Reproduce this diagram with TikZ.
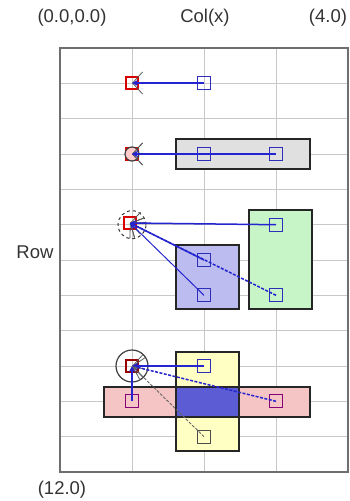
\documentclass[tikz,border=0pt]{standalone}
\usepackage{fontspec}
\setmainfont{Liberation Sans}
\usetikzlibrary{arrows.meta,calc}
\definecolor{gridc}{HTML}{C8C8C8}
\definecolor{framec}{HTML}{6E6E6E}
\definecolor{sqblue}{HTML}{2E2EB8}
\definecolor{linblue}{HTML}{2424D0}
\definecolor{grayfill}{HTML}{E0E0E0}
\definecolor{greenfill}{HTML}{C8F5C8}
\definecolor{bluefill}{HTML}{BCBCF0}
\definecolor{yellowfill}{HTML}{FFFFC4}
\definecolor{pinkfill}{HTML}{F5C4C4}
\definecolor{overfill}{HTML}{5C5CD4}
\begin{document}
\begin{tikzpicture}[x=1pt,y=-1pt,
  sq/.style={draw=sqblue, line width=1.2pt, minimum size=13pt, inner sep=0pt, rectangle},
  rsq/.style={draw=red!85!black, line width=1.2pt, minimum size=12pt, inner sep=0pt, rectangle},
  lbl/.style={font=\fontsize{18.5}{20}\selectfont, text=black!80, inner sep=0pt},
  conn/.style={draw=linblue, line width=1.5pt, -{Stealth[length=6pt,width=6pt]}},
  dconn/.style={conn, dash pattern=on 3pt off 1.5pt},
  gconn/.style={conn, draw=black!60, line width=0.9pt, dash pattern=on 3pt off 1.5pt},
  barb/.style={draw=black!65, line width=0.8pt, -{Straight Barb[length=10pt,width=22pt]}},
  box/.style={draw=black!85, line width=1.3pt}]
\useasboundingbox (0,0) rectangle (349,501);
% grid
\foreach \x in {132,204,276} \draw[gridc, line width=1pt] (\x,48) -- (\x,472);
\foreach \k in {1,...,11} \draw[gridc, line width=1pt] (60,{48+35.333*\k}) -- (348,{48+35.333*\k});
\draw[framec, line width=1.5pt] (60,48) rectangle (348,472);
% labels
\node[lbl] (t1) at (72,18) {(0.0,0.0)};
\node[lbl] (t2) at (205,18) {Col(x)};
\node[lbl] (t3) at (328,18) {(4.0)};
\node[lbl] (t4) at (35,252) {Row};
\node[lbl] (t5) at (62,490) {(12.0)};
% rectangles
\draw[box, fill=grayfill] (176,139) rectangle (310,169);
\draw[box, fill=greenfill] (249,210) rectangle (312,309);
\draw[box, fill=bluefill] (176,245) rectangle (239,309);
\fill[yellowfill] (176,352) rectangle (239,451);
\fill[pinkfill] (104,387) rectangle (310,417);
\fill[overfill] (176,387) rectangle (239,417);
\draw[box] (176,352) rectangle (239,451);
\draw[box] (104,387) rectangle (310,417);
% nodes
\node[rsq] (a1) at (132,83) {};
\node[sq] (b1) at (204,83) {};
\node[rsq] (a3) at (132,154) {};
\node[circle, draw=black!75, fill=red!20, line width=1.2pt, minimum size=14pt, inner sep=0pt] (c3) at (132,154) {};
\node[sq] (b3a) at (204,154) {};
\node[sq] (b3b) at (276,154) {};
\node[circle, draw=black!80, dashed, line width=1pt, minimum size=28pt, inner sep=0pt] (c5) at (132,224.7) {};
\node[rsq] (a5) at (130,223) {};
\node[sq] (e5) at (276,224.7) {};
\node[sq] (e6) at (204,260) {};
\node[sq] (e7a) at (204,295.3) {};
\node[sq] (e7b) at (276,295.3) {};
\node[circle, draw=black!75, line width=1.2pt, minimum size=32pt, inner sep=0pt] (c9) at (132,366) {};
\node[rsq, draw=red!60!black] (a9) at (132,366) {};
\node[sq] (d9) at (204,366) {};
\node[sq, draw=purple!70!blue] (d10a) at (132,401.3) {};
\node[sq, draw=purple!70!blue] (d10b) at (276,401.3) {};
\node[sq, draw=black!70] (d11) at (204,436.7) {};
% barbs (arrow heads only)
\foreach \s/\t in {b1/a1, b3b/a3, b3a/a3, e5/a5, e6/a5, e7a/a5, e7b/a5, d9/a9, d10b/a9, d11/a9}
  \draw[barb] ($(\t.center)!12pt!(\s.center)$) -- (\t.center);
% connectors
\draw[conn] (b1.center) -- (a1.center);
\draw[conn] (b3b.center) -- (a3.center);
\draw[conn] (b3a.center) -- (a3.center);
\draw[conn] (e5.center) -- (a5.center);
\draw[conn] (e6.center) -- (a5.center);
\draw[conn, line width=1pt] (e7a.center) -- (a5.center);
\draw[dconn] (e7b.center) -- (a5.center);
\draw[conn] (d9.center) -- (a9.center);
\draw[dconn] (d10b.center) -- (a9.center);
\draw[gconn] (d11.center) -- (a9.center);
\draw[conn] (d10a.center) -- (a9.center);
\end{tikzpicture}
\end{document}
